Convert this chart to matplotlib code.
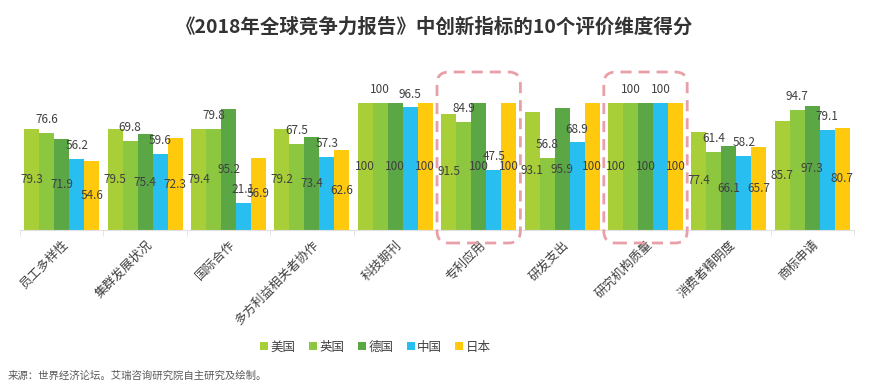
import matplotlib
matplotlib.use("Agg")
import matplotlib.pyplot as plt
import numpy as np
from matplotlib.patches import FancyBboxPatch
from matplotlib.lines import Line2D

plt.rcParams['font.family'] = ['Noto Sans CJK SC', 'DejaVu Sans']

categories = ["员工多样性", "集群发展状况", "国际合作", "多方利益相关者协作", "科技期刊",
              "专利应用", "研发支出", "研究机构质量", "消费者精明度", "商标申请"]
series_names = ["美国", "英国", "德国", "中国", "日本"]
usa = [79.3, 79.5, 79.4, 79.2, 100, 91.5, 93.1, 100, 77.4, 85.7]
uk = [76.6, 69.8, 79.8, 67.5, 100, 84.9, 56.8, 100, 61.4, 94.7]
germany = [71.9, 75.4, 95.2, 73.4, 100, 100, 95.9, 100, 66.1, 97.3]
china = [56.2, 59.6, 21.1, 57.3, 96.5, 47.5, 68.9, 100, 58.2, 79.1]
japan = [54.6, 72.3, 56.9, 62.6, 100, 100, 100, 100, 65.7, 80.7]
highlighted = ["专利应用", "研究机构质量"]

title = "《2018年全球竞争力报告》中创新指标的10个评价维度得分"
source = "来源：世界经济论坛。艾瑞咨询研究院自主研究及绘制。"

colors = ["#a8cf38", "#8dc63f", "#5ba745", "#28bff0", "#ffc90e"]
label_types = ["center", "edge", "center", "edge", "center"]

W, H = 871, 384
fig = plt.figure(figsize=(W / 100, H / 100), dpi=100)
ax = fig.add_axes([20 / W, 154 / H, 834 / W, 152.4 / H])

x = np.arange(len(categories))
bw = 0.18
all_series = [usa, uk, germany, china, japan]
for i, (vals, c, lt, name) in enumerate(zip(all_series, colors, label_types, series_names)):
    bars = ax.bar(x + (i - 2) * bw, vals, width=bw, color=c, label=name, linewidth=0)
    ax.bar_label(bars, labels=[f"{v:g}" for v in vals], label_type=lt,
                 fontsize=8.5, color="#404040", padding=5 if lt == "edge" else 0)

ax.set_xlim(-0.5, len(categories) - 0.5)
ax.set_ylim(0, 120)
ax.set_yticks([])
for s in ["top", "right", "left"]:
    ax.spines[s].set_visible(False)
ax.spines["bottom"].set_color("#e0e0e0")
ax.set_xticks(x)
ax.set_xticklabels(categories, rotation=45, ha="right", va="top",
                   rotation_mode="anchor", fontsize=9, color="#404040")
ax.tick_params(axis="x", which="major", length=0, pad=6)
ax.set_xticks(np.arange(-0.5, len(categories), 1.0), minor=True)
ax.tick_params(axis="x", which="minor", length=4, color="#e0e0e0")

fig.text(435 / W, 1 - 27 / H, title, ha="center", va="center",
         fontsize=14, fontweight="bold", color="#333333")
fig.text(8 / W, 1 - 376 / H, source, ha="left", va="center",
         fontsize=7.5, color="#595959")

handles = [Line2D([0], [0], marker="s", linestyle="none", markersize=6,
                  markerfacecolor=c, markeredgewidth=0) for c in colors]
fig.legend(handles, series_names, loc="center", bbox_to_anchor=(375 / W, 1 - 347 / H),
           ncol=5, frameon=False, fontsize=9, handletextpad=0.1, columnspacing=1.0,
           handlelength=0.8, labelcolor="#404040")

# dashed rounded highlight boxes
fig.canvas.draw()
for name in highlighted:
    idx = categories.index(name)
    (x0, _), (x1, _) = ax.transData.transform([(idx - 0.5, 0), (idx + 0.5, 0)])
    y_top = (H - 72)
    y_bot = (H - 243)
    patch = FancyBboxPatch((x0 / 100, y_bot / 100), (x1 - x0) / 100, (y_top - y_bot) / 100,
                           boxstyle="round,pad=0,rounding_size=0.12",
                           transform=fig.dpi_scale_trans, fill=False,
                           edgecolor="#e8a0a8", linewidth=2, linestyle=(0, (4, 2.5)),
                           clip_on=False)
    fig.add_artist(patch)

fig.savefig("out.png", dpi=100)
